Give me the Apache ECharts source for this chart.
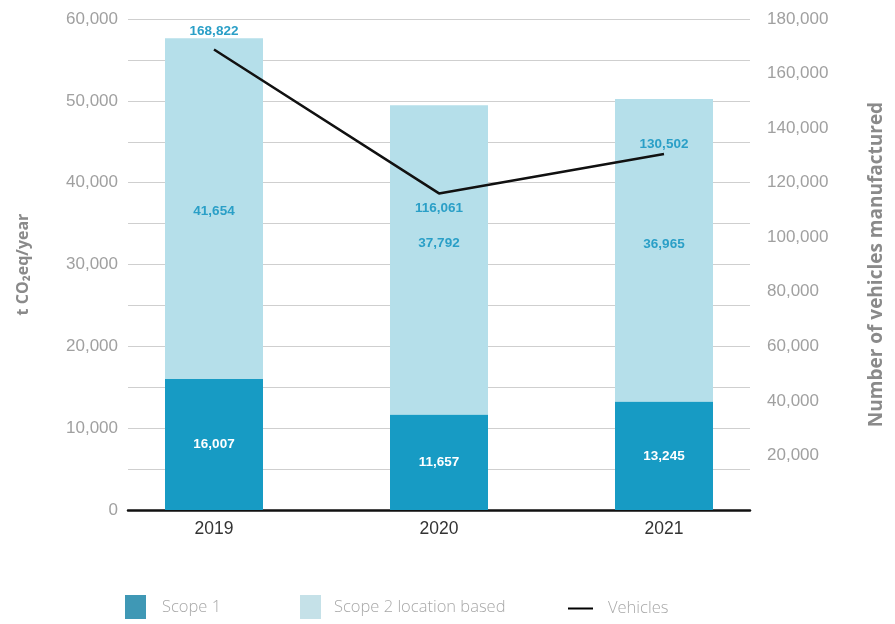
<!DOCTYPE html>
<html><head><meta charset="utf-8">
<script src="https://cdn.jsdelivr.net/npm/echarts@6/dist/echarts.min.js"></script>
<style>html,body{margin:0;padding:0;background:#fff}#c{width:895px;height:624px}</style>
</head><body><div id="c"></div>
<script>
const categories = ['2019', '2020', '2021'];
const scope1 = [16007, 11657, 13245];
const scope2 = [41654, 37792, 36965];
const vehicles = [168822, 116061, 130502];
const vehicleLabelPos = ['top', 'bottom', 'top'];
const vehicleLabelDist = [11, 8, 3];
const scope2LabelShift = [3, -17, -6];

const fmt = v => v.toLocaleString('en-US');
const numFont = '"Liberation Sans", Arial, sans-serif';
const sansFont = '"Open Sans", sans-serif';
const labelTeal = '#2a9fc7';

const chart = echarts.init(document.getElementById('c'));
chart.setOption({
  animation: false,
  grid: [
    { left: 128, right: 145, top: 19, bottom: 114 },
    { left: 101.5, right: 118.5, top: 19, bottom: 114 }
  ],
  xAxis: [
    { type: 'value', gridIndex: 0, min: 0, max: 1, axisLabel: { show: false }, axisTick: { show: false }, splitLine: { show: false },
      axisLine: { show: true, lineStyle: { color: '#111', width: 2.5 } } },
    { type: 'category', gridIndex: 1, data: categories, axisLine: { show: false }, axisTick: { show: false },
      axisLabel: { color: '#333', fontSize: 17.5, fontFamily: numFont, margin: 10 } }
  ],
  yAxis: [
    { type: 'value', gridIndex: 0, min: 0, max: 60000, interval: 5000,
      name: 't CO₂eq/year', nameLocation: 'middle', nameGap: 97,
      nameTextStyle: { color: '#8a8a8a', fontSize: 16, fontWeight: 'bold', fontFamily: sansFont },
      axisLine: { show: false }, axisTick: { show: false },
      axisLabel: { color: '#a0a0a0', fontSize: 17, fontFamily: numFont, margin: 10,
        formatter: v => (v % 10000 === 0 ? fmt(v) : '') },
      splitLine: { lineStyle: { color: '#cfcfcf', width: 1.2 } } },
    { type: 'value', gridIndex: 0, min: 0, max: 180000, interval: 20000, position: 'right',
      name: 'Number of vehicles manufactured', nameLocation: 'middle', nameGap: 117,
      nameTextStyle: { color: '#8a8a8a', fontSize: 19, fontWeight: 'bold', fontFamily: sansFont },
      axisLine: { show: false }, axisTick: { show: false }, splitLine: { show: false },
      axisLabel: { color: '#a0a0a0', fontSize: 17, fontFamily: numFont, margin: 17,
        formatter: v => (v === 0 ? '' : fmt(v)) } },
    { type: 'value', gridIndex: 1, min: 0, max: 60000, show: false },
    { type: 'value', gridIndex: 1, min: 0, max: 180000, show: false }
  ],
  legend: [
    { left: 125, top: 595, padding: 0, itemWidth: 21, itemHeight: 24, itemGap: 10, icon: 'rect',
      textStyle: { color: '#a8a8a8', fontSize: 16.5, fontWeight: 300, fontFamily: sansFont, padding: [4, 0, 0, 11] },
      data: [{ name: 'Scope 1', itemStyle: { color: '#3f98b5' } }] },
    { left: 300, top: 595, padding: 0, itemWidth: 21, itemHeight: 24, itemGap: 10, icon: 'rect',
      textStyle: { color: '#a8a8a8', fontSize: 16.5, fontWeight: 300, fontFamily: sansFont, padding: [4, 0, 0, 8] },
      data: [{ name: 'Scope 2 location based', itemStyle: { color: '#c5e1e8' } }] },
    { left: 568, top: 600, padding: 0, itemWidth: 25, itemHeight: 24, itemGap: 10,
      icon: 'path://M0,11 L25,11 L25,13 L0,13 Z',
      textStyle: { color: '#a8a8a8', fontSize: 16.5, fontWeight: 300, fontFamily: sansFont, padding: [4, 0, 0, 10] },
      data: [{ name: 'Vehicles', itemStyle: { color: '#000' } }] }
  ],
  series: [
    { name: 'Scope 1', type: 'bar', stack: 'em', xAxisIndex: 1, yAxisIndex: 2, barWidth: 98,
      itemStyle: { color: '#179bc4' }, data: scope1,
      label: { show: true, position: 'inside', color: '#fff', fontSize: 13.5, fontWeight: 'bold', fontFamily: numFont,
        formatter: p => fmt(p.value) } },
    { name: 'Scope 2 location based', type: 'bar', stack: 'em', xAxisIndex: 1, yAxisIndex: 2, barWidth: 98,
      itemStyle: { color: '#b5dfea' },
      data: scope2.map((v, i) => ({ value: v, label: { offset: [0, scope2LabelShift[i]] } })),
      label: { show: true, position: 'inside', color: labelTeal, fontSize: 13.5, fontWeight: 'bold', fontFamily: numFont,
        formatter: p => fmt(p.value) } },
    { name: 'Vehicles', type: 'line', xAxisIndex: 1, yAxisIndex: 3, symbol: 'circle', symbolSize: 0.01, showSymbol: true, z: 5,
      lineStyle: { color: '#111', width: 2.5 }, itemStyle: { color: '#111' },
      data: vehicles.map((v, i) => ({ value: v, label: { position: vehicleLabelPos[i], distance: vehicleLabelDist[i] } })),
      label: { show: true, color: labelTeal, fontSize: 13.5, fontWeight: 'bold', fontFamily: numFont,
        formatter: p => fmt(p.value) } }
  ]
});
</script>
</body></html>
